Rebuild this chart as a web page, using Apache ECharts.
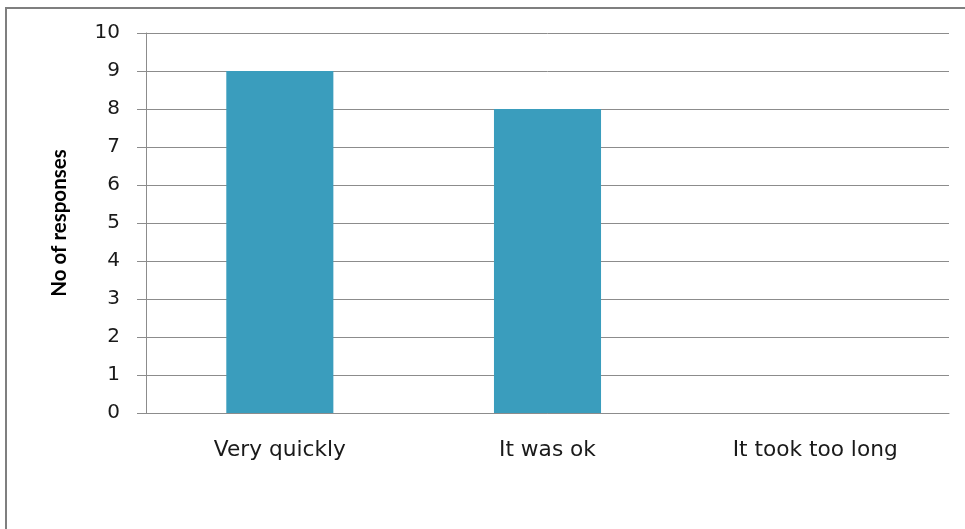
<!DOCTYPE html>
<html>
<head>
<meta charset="utf-8">
<script src="https://cdn.jsdelivr.net/npm/echarts@6/dist/echarts.min.js"></script>
<style>
  html, body { margin: 0; padding: 0; background: #fff; }
  #chart { width: 965px; height: 529px; }
</style>
</head>
<body>
<div id="chart"></div>
<script>
// Survey answers: how quickly the request was handled
const categories = ['Very quickly', 'It was ok', 'It took too long'];
const responses = [9, 8, 0];
const yTicks = [0, 1, 2, 3, 4, 5, 6, 7, 8, 9, 10];

const chart = echarts.init(document.getElementById('chart'), null, { renderer: 'canvas' });

chart.setOption({
  animation: false,
  backgroundColor: '#ffffff',
  graphic: [{
    type: 'rect',
    shape: { x: 6, y: 8, width: 1000, height: 600 },
    style: { fill: 'none', stroke: '#7f7f7f', lineWidth: 2 },
    silent: true,
    z: -1
  }],
  grid: { left: 146, right: 16, top: 33, bottom: 116, containLabel: false },
  xAxis: {
    type: 'category',
    data: categories,
    axisLine: { show: true, lineStyle: { color: '#8c8c8c', width: 1 } },
    axisTick: { show: false },
    axisLabel: {
      color: '#1a1a1a',
      fontFamily: '"DejaVu Sans", Verdana, sans-serif',
      fontSize: 21.7,
      margin: 26
    }
  },
  yAxis: {
    type: 'value',
    min: yTicks[0],
    max: yTicks[yTicks.length - 1],
    interval: 1,
    name: 'No of responses',
    nameLocation: 'middle',
    nameGap: 76,
    nameRotate: 90,
    nameTextStyle: {
      color: '#000',
      fontFamily: 'Lato, "Open Sans", sans-serif',
      fontWeight: 'bold',
      fontSize: 20.5
    },
    axisLine: { show: true, lineStyle: { color: '#8c8c8c', width: 1 } },
    axisTick: { show: true, length: 9, lineStyle: { color: '#8c8c8c' } },
    splitLine: { show: true, lineStyle: { color: '#8c8c8c', width: 1 } },
    axisLabel: {
      color: '#1a1a1a',
      fontFamily: '"DejaVu Sans", Verdana, sans-serif',
      fontSize: 20,
      margin: 26
    }
  },
  series: [{
    type: 'bar',
    data: responses,
    barWidth: '40%',
    itemStyle: { color: '#3a9dbd' }
  }]
});
</script>
</body>
</html>
